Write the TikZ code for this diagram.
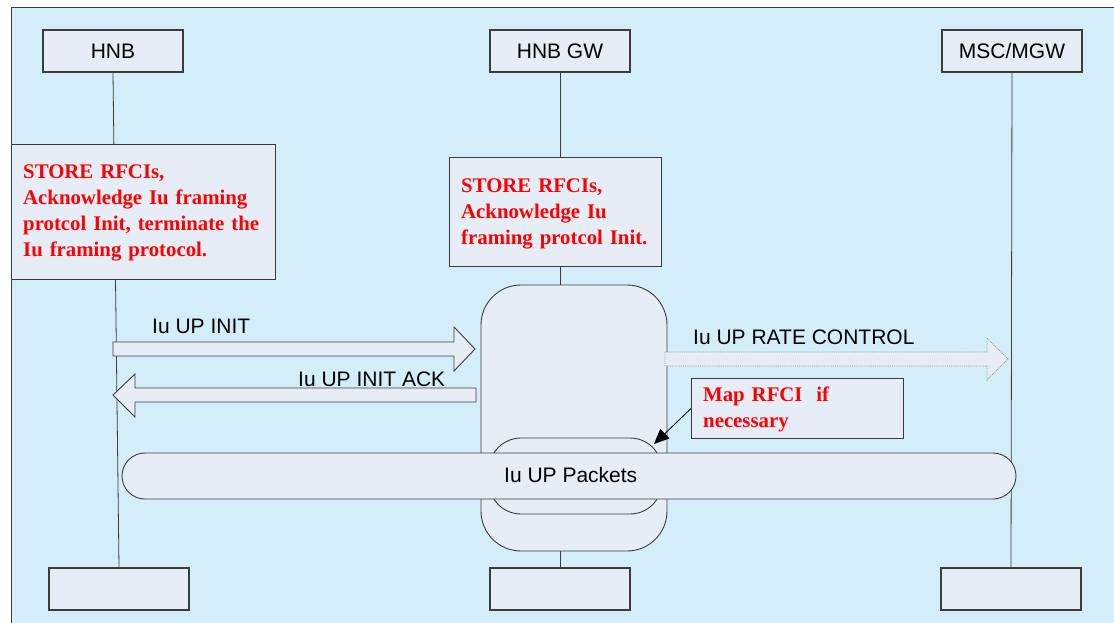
\documentclass[tikz,border=0pt]{standalone}
\usepackage{fontspec}
\setmainfont{Liberation Sans}
\newfontfamily\rfont{Liberation Serif}
\usetikzlibrary{arrows.meta}
\definecolor{bgblue}{HTML}{D3EEF8}
\definecolor{boxfill}{HTML}{E6EDF7}
\definecolor{edge}{HTML}{3C3C3C}
\tikzset{
  x=1pt,y=-1pt,
  actor/.style={draw=edge,line width=1.1pt,fill=boxfill,minimum width=140pt,minimum height=42pt,inner sep=0pt,font=\fontsize{21}{24}\selectfont},
  notebox/.style={draw=edge,line width=1.1pt,fill=boxfill,inner sep=0pt,anchor=north west},
  redtxt/.style={text=red,font=\rfont\bfseries\fontsize{20.8}{26}\selectfont,align=left,inner sep=0pt,anchor=base west},
  lbl/.style={font=\fontsize{21}{24}\selectfont,inner sep=0pt,anchor=base west},
  life/.style={draw=edge,line width=0.8pt},
  blockarrow/.style={draw=edge,line width=0.9pt,fill=boxfill},
}
\begin{document}
\begin{tikzpicture}
\useasboundingbox (0,0) rectangle (1114,622);
\fill[bgblue] (11,7) rectangle (1130,640);
\draw[edge,line width=1pt] (11,640) -- (11,7) -- (1130,7);

% actors top
\node[actor] (hnb) at (113,51) {HNB};
\node[actor] (gw) at (560,51) {HNB GW};
\node[actor] (msc) at (1012,51) {MSC/MGW};
% actors bottom
\node[actor] (hnbb) at (119,589) {};
\node[actor] (gwb) at (560,589) {};
\node[actor] (mscb) at (1011,589) {};

% lifelines
\draw[life] (hnb.south) -- (hnbb.north);
\draw[life] (gw.south) -- (gwb.north);
\draw[life] (msc.south) -- (mscb.north);

% note boxes
\node[notebox,minimum width=264pt,minimum height=135pt] (hnbnote) at (11,144) {};
\node[redtxt,text width=250pt] (hnbtext) at (23,178) {STORE RFCIs,\\Acknowledge Iu framing\\protcol Init, terminate the\\Iu framing protocol.};

\node[notebox,minimum width=212pt,minimum height=109pt] (gwnote) at (449,157) {};
\node[redtxt,text width=200pt] (gwtext) at (461,192) {STORE RFCIs,\\Acknowledge Iu\\framing protcol Init.};

% GW processing boxes
\node[draw=edge,line width=0.9pt,fill=boxfill,rounded corners=40pt,minimum width=186pt,minimum height=266pt,inner sep=0pt] (gwproc) at (574,418) {};
\node[draw=edge,line width=0.9pt,fill=boxfill,rounded corners=32pt,minimum width=173pt,minimum height=76pt,inner sep=0pt] (gwinner) at (575.5,476) {};
\node[draw=edge,line width=0.9pt,fill=boxfill,rounded corners=23pt,minimum width=894pt,minimum height=46pt,inner sep=0pt] (bar) at (569,476) {};
\node[lbl] (bartext) at (504,482) {Iu UP Packets};

% block arrows
\draw[blockarrow] (113,342) -- (454,342) -- (454,327) -- (475,349) -- (454,371) -- (454,356) -- (113,356) -- cycle;
\node[lbl] (initlbl) at (152,333) {Iu UP INIT};
\draw[blockarrow] (476,388) -- (135,388) -- (135,374) -- (113,395) -- (135,417) -- (135,402) -- (476,402) -- cycle;
\node[lbl] (acklbl) at (298,386) {Iu UP INIT ACK};
\draw[draw=gray!80,densely dotted,line width=0.9pt,fill=boxfill] (665,352) -- (987,352) -- (987,338) -- (1008,359) -- (987,380) -- (987,366) -- (665,366) -- cycle;
\node[lbl] (ratelbl) at (693,344) {Iu UP RATE CONTROL};

% map RFCI note
\node[notebox,minimum width=212pt,minimum height=60pt] (mapnote) at (691,378) {};
\node[redtxt,text width=200pt] (maptext) at (703,401) {Map RFCI\ \ if\\necessary};
\coordinate (maptip) at (654,444);
\draw[black,line width=0.8pt,-{Triangle[length=15pt,width=13pt]}] (mapnote.west) -- (maptip);
\end{tikzpicture}
\end{document}
